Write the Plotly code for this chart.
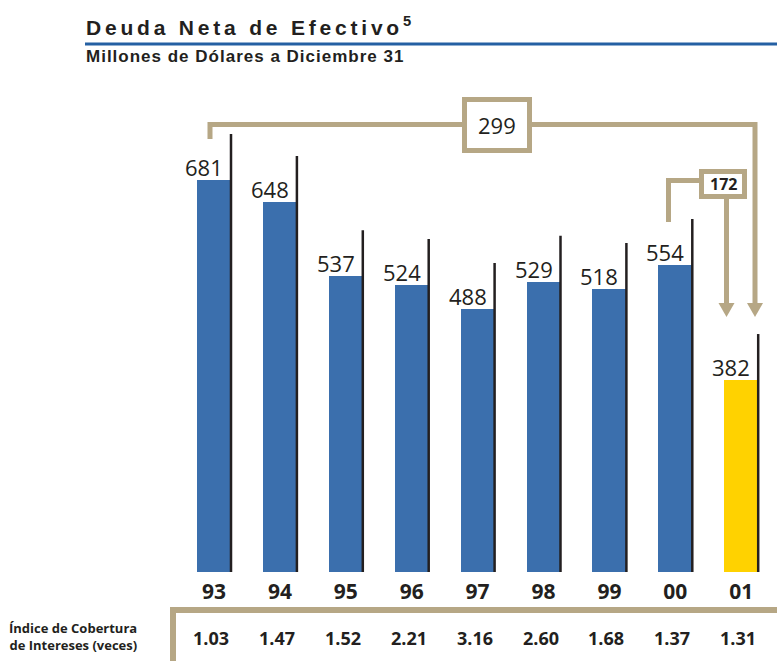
import plotly.graph_objects as go

# ---------------- data ----------------
years = ["93", "94", "95", "96", "97", "98", "99", "00", "01"]
net_debt = [681, 648, 537, 524, 488, 529, 518, 554, 382]
coverage = ["1.03", "1.47", "1.52", "2.21", "3.16", "2.60", "1.68", "1.37", "1.31"]

# ---------------- style ----------------
BLUE = "#3b6fad"
YELLOW = "#ffd200"
TAN = "#b6a785"
INK = "#231f20"
RULE = "#2560a3"
bar_colors = [BLUE] * (len(years) - 1) + [YELLOW]

W, H = 777, 661
PLOT_H = 572            # pixel height of the plotting area (baseline)
Y0 = 95                 # value at the baseline
PX_PER_UNIT = 0.6689
CENTER0, STEP = 214, 65.9

idx = list(range(len(years)))
BAR_W = 34 / STEP
EDGE = BAR_W / 2
STEM = 46 / PX_PER_UNIT


def X(px):
    return px / W


def Y(py):
    return 1 - py / PLOT_H


fig = go.Figure()

fig.add_trace(go.Bar(
    x=idx, y=net_debt, width=BAR_W,
    marker=dict(color=bar_colors, line=dict(width=0)),
    hoverinfo="skip", showlegend=False,
))

# black stems at the right edge of each bar
sx, sy = [], []
for i, v in zip(idx, net_debt):
    sx += [i + EDGE, i + EDGE, None]
    sy += [Y0 - 20, v + STEM, None]
fig.add_trace(go.Scatter(
    x=sx, y=sy, mode="lines", line=dict(color=INK, width=2.5),
    hoverinfo="skip", showlegend=False,
))

annotations = []
shapes = []

# value labels
for i, v in zip(idx, net_debt):
    annotations.append(dict(
        x=i + EDGE, y=v, xref="x", yref="y", text=str(v),
        xanchor="right", yanchor="bottom", xshift=-7, yshift=-3,
        showarrow=False, borderpad=0,
        font=dict(family="Open Sans", size=22, color=INK),
    ))

# coverage row
for i, c in zip(idx, coverage):
    annotations.append(dict(
        x=i, y=Y(638), xref="x", yref="paper", text=c,
        xanchor="center", yanchor="middle", showarrow=False, xshift=-3,
        font=dict(family="Open Sans", size=18, color=INK, weight="bold"),
    ))

annotations.append(dict(
    x=X(139), y=Y(637), xref="paper", yref="paper",
    text="Índice de Cobertura<br>de Intereses (veces)",
    xanchor="right", yanchor="middle", align="right", showarrow=False,
    font=dict(family="Open Sans", size=13, color=INK, weight="bold"),
))

# title & subtitle
annotations.append(dict(
    x=X(85), y=Y(40), xref="paper", yref="paper",
    text="Deuda Neta de Efectivo<sup>5</sup>",
    xanchor="left", yanchor="bottom", align="left", showarrow=False, borderpad=0,
    font=dict(family="Liberation Sans", size=21, color=INK, weight="bold"),
))
annotations.append(dict(
    x=X(85), y=Y(67), xref="paper", yref="paper",
    text="Millones de Dólares a Diciembre 31",
    xanchor="left", yanchor="bottom", align="left", showarrow=False, borderpad=0,
    font=dict(family="Liberation Sans", size=17, color=INK, weight="bold"),
))
shapes.append(dict(type="line", xref="paper", yref="paper",
                   x0=X(85), x1=X(777), y0=Y(44), y1=Y(44),
                   line=dict(color=RULE, width=3)))

# differences shown in the brackets
diff_all = net_debt[0] - net_debt[-1]
diff_last = net_debt[-2] - net_debt[-1]


def path(points):
    return "M " + " L ".join(f"{X(a):.5f},{Y(b):.5f}" for a, b in points)


def tri(xc, ytop, ytip, half):
    return path([(xc - half, ytop), (xc + half, ytop), (xc, ytip)]) + " Z"


# big bracket
shapes.append(dict(type="path", xref="paper", yref="paper",
                   path=path([(210, 139), (210, 124.5), (464.5, 124.5)]),
                   line=dict(color=TAN, width=5)))
shapes.append(dict(type="path", xref="paper", yref="paper",
                   path=path([(529.5, 124.5), (755, 124.5), (755, 305)]),
                   line=dict(color=TAN, width=5)))
shapes.append(dict(type="rect", xref="paper", yref="paper",
                   x0=X(464.5), x1=X(529.5), y0=Y(99.5), y1=Y(150.5),
                   line=dict(color=TAN, width=5), fillcolor="white"))
shapes.append(dict(type="path", xref="paper", yref="paper",
                   path=tri(755, 303, 317, 8), fillcolor=TAN, line=dict(width=0)))
annotations.append(dict(x=X(497), y=Y(125), xref="paper", yref="paper",
                        text=str(diff_all), showarrow=False,
                        xanchor="center", yanchor="middle",
                        font=dict(family="Open Sans", size=22, color=INK)))

# small bracket
shapes.append(dict(type="path", xref="paper", yref="paper",
                   path=path([(668.5, 222), (668.5, 180.5), (701.5, 180.5)]),
                   line=dict(color=TAN, width=5)))
shapes.append(dict(type="path", xref="paper", yref="paper",
                   path=path([(726.5, 196.5), (726.5, 305)]),
                   line=dict(color=TAN, width=5)))
shapes.append(dict(type="rect", xref="paper", yref="paper",
                   x0=X(701.5), x1=X(744.5), y0=Y(171.5), y1=Y(196.5),
                   line=dict(color=TAN, width=5), fillcolor="white"))
shapes.append(dict(type="path", xref="paper", yref="paper",
                   path=tri(726.5, 303, 317, 8), fillcolor=TAN, line=dict(width=0)))
annotations.append(dict(x=X(723), y=Y(184.5), xref="paper", yref="paper",
                        text=str(diff_last), showarrow=False,
                        xanchor="center", yanchor="middle",
                        font=dict(family="Open Sans", size=16, color=INK, weight="bold")))

# table bracket
shapes.append(dict(type="path", xref="paper", yref="paper",
                   path=path([(173, 670), (173, 610), (780, 610)]),
                   line=dict(color=TAN, width=6)))

fig.update_layout(
    width=W, height=H, autosize=False,
    margin=dict(l=0, r=0, t=0, b=H - PLOT_H, pad=0),
    paper_bgcolor="white", plot_bgcolor="white",
    showlegend=False,
    bargap=0,
    xaxis=dict(
        range=[-CENTER0 / STEP, (W - CENTER0) / STEP],
        tickmode="array", tickvals=idx, ticktext=years,
        showgrid=False, zeroline=False, showline=False, ticks="",
        ticklabelstandoff=5,
        tickfont=dict(family="Open Sans", size=21, color=INK, weight="bold"),
        fixedrange=True,
    ),
    yaxis=dict(
        range=[Y0, Y0 + PLOT_H / PX_PER_UNIT],
        showgrid=False, zeroline=False, showline=False,
        showticklabels=False, ticks="", fixedrange=True,
    ),
    annotations=annotations,
    shapes=shapes,
)

post = """
document.body.style.margin = '0';
document.body.style.overflow = 'hidden';
var gd = document.getElementById('{plot_id}');
gd.querySelectorAll('.annotation-text').forEach(function(t){
  var s = t.textContent || '';
  if (s.indexOf('Deuda') === 0) { t.style.letterSpacing = '3.8px'; }
  else if (s.indexOf('Millones') === 0) { t.style.letterSpacing = '1px'; }
});
"""

fig.write_html("out.html", config={"displayModeBar": False, "staticPlot": True},
               post_script=post)
